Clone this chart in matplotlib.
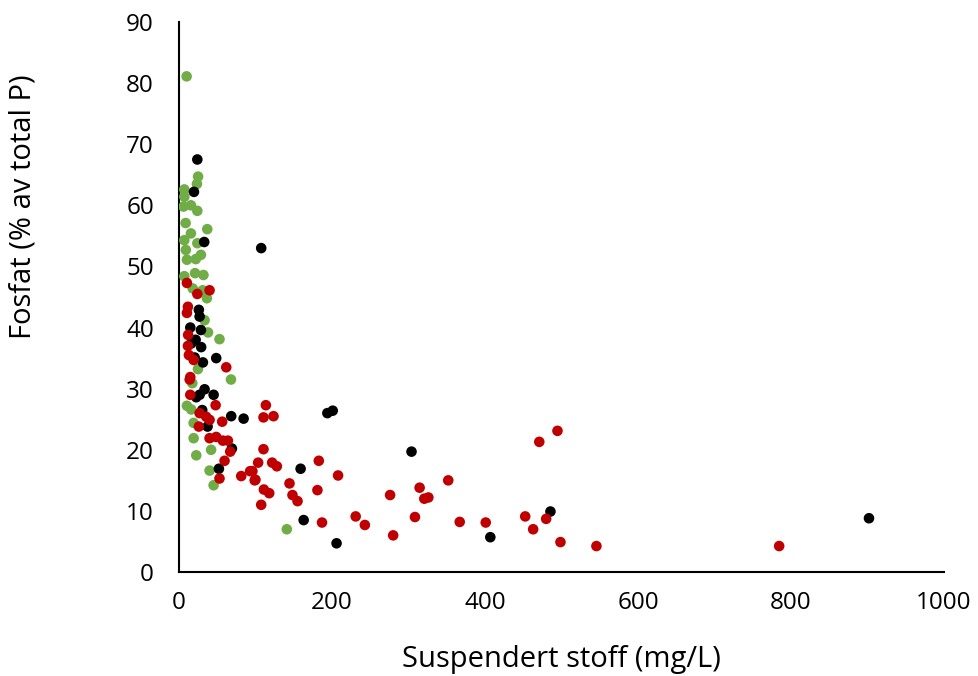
import matplotlib
matplotlib.use("Agg")
import matplotlib.pyplot as plt

plt.rcParams['font.family'] = ['Open Sans', 'DejaVu Sans']

# green series
green_x = [10, 25, 23.5, 7, 7, 6, 15.7, 24, 8.7, 37, 7, 15.6, 9, 24, 10.4, 22, 28.7,
           7, 21, 32, 18, 31, 36.5, 33.5, 38, 53, 24.8, 68, 17.4, 10.4, 16, 19.2, 19.2,
           42, 22.6, 40, 45.3, 141]
green_y = [81.1, 64.7, 63.5, 62.6, 61.4, 59.8, 60, 59.1, 57.1, 56.1, 54.3, 55.4, 52.7, 53.8,
           51.1, 51.2, 51.9, 48.4, 48.9, 48.6, 46.4, 46.1, 44.8, 41.2, 39.2, 38.1, 33.2, 31.5,
           30.9, 27.2, 26.6, 24.4, 21.9, 20, 19.1, 16.6, 14.2, 7.0]

# black series
black_x = [24, 19.6, 33, 107.5, 26, 27, 14.8, 28.7, 21.8, 16, 29, 20.5, 31.3, 48.7,
           33.5, 45.3, 22.6, 27, 30.4, 68.3, 84.5, 37.4, 69.2, 52.2, 159, 194, 201,
           304, 163, 206, 407, 485.6, 902]
black_y = [67.5, 62.2, 54, 53, 42.9, 41.8, 40, 39.6, 38, 37.4, 36.8, 35.1, 34.3, 35,
           29.9, 29.0, 28.6, 29, 26.5, 25.5, 25.1, 23.8, 20.2, 16.9, 16.9, 26, 26.4,
           19.7, 8.5, 4.7, 5.7, 9.9, 8.8]

# red series
red_x = [10.4, 40, 24, 11.7, 10.4, 12, 11.7, 13, 19.2, 61.8, 14.8, 14, 14.8, 47.9, 27,
         35.6, 40, 56.5, 26, 40, 48.7, 57.4, 64, 67, 59.6, 53, 81.4, 93, 100,
         113.6, 110.5, 123.6, 110.5, 103.5, 121.8, 128, 96, 99, 182.8, 208, 111, 118,
         107.5, 144.5, 148.4, 155, 181, 187, 231, 243, 276, 280, 308.5, 314.6, 320.7,
         326, 352, 367, 401, 452.6, 463, 471, 480, 494.8, 498.7, 545.7, 784.6]
red_y = [47.3, 46.1, 45.5, 43.4, 42.4, 38.8, 37, 35.5, 34.7, 33.5, 31.9, 31.5, 29, 27.3, 26,
         25.4, 24.9, 24.6, 23.8, 21.9, 22.1, 21.5, 21.5, 19.7, 18.2, 15.3, 15.7, 16.5, 15.1,
         27.3, 25.3, 25.5, 20.1, 17.9, 17.9, 17.3, 16.5, 15.0, 18.2, 15.8, 13.5, 12.9,
         11.0, 14.5, 12.6, 11.6, 13.4, 8.1, 9.1, 7.7, 12.6, 6.0, 9.0, 13.8, 12.0,
         12.2, 15.0, 8.2, 8.1, 9.1, 7.0, 21.3, 8.7, 23.1, 4.9, 4.25, 4.25]

fig = plt.figure(figsize=(9.79, 6.76), dpi=100)
ax = fig.add_axes([0.1828, 0.1538, 0.7814, 0.8137])

ax.scatter(green_x, green_y, s=58, color='#70AD47', edgecolors='none', zorder=3)
ax.scatter(black_x, black_y, s=58, color='#000000', edgecolors='none', zorder=3)
ax.scatter(red_x, red_y, s=58, color='#C00000', edgecolors='none', zorder=3)

ax.set_xlim(0, 1000)
ax.set_ylim(0, 90)
ax.set_xticks(range(0, 1001, 200))
ax.set_yticks(range(0, 91, 10))
ax.tick_params(length=0, labelsize=17.5)
ax.tick_params(axis='x', pad=14)
ax.tick_params(axis='y', pad=18)
for s in ['top', 'right']:
    ax.spines[s].set_visible(False)
for s in ['left', 'bottom']:
    ax.spines[s].set_linewidth(1.5)

fig.text(0.5735, 0.024, "Suspendert stoff (mg/L)", ha='center', va='center', fontsize=21)
fig.text(0.024, 0.694, "Fosfat (% av total P)", ha='center', va='center', fontsize=21, rotation=90)

fig.savefig("out.png", dpi=100)
